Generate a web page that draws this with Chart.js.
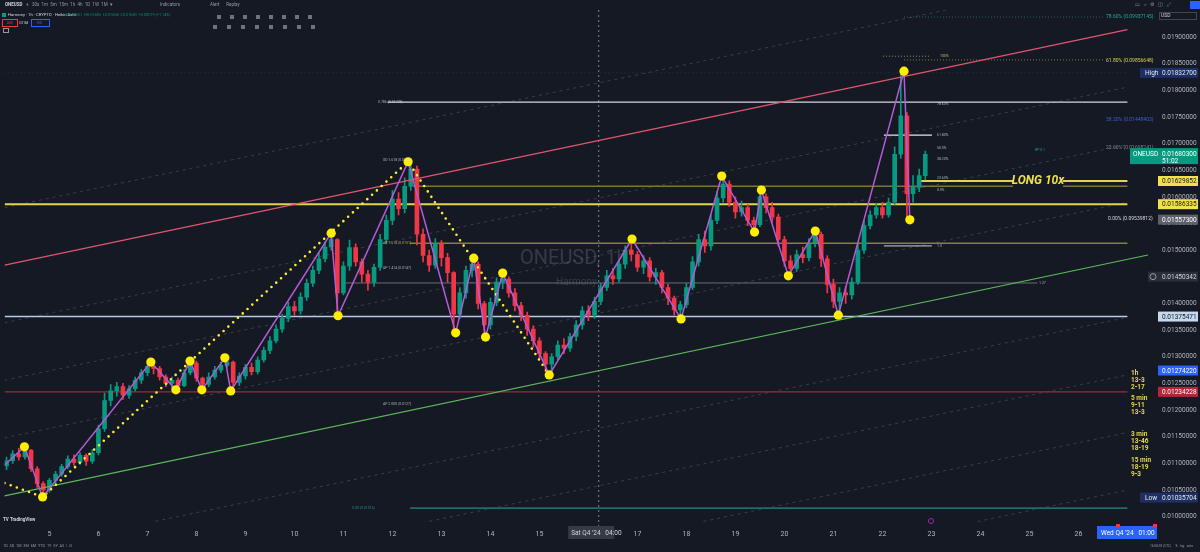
<!DOCTYPE html>
<html>
<head>
<meta charset="utf-8">
<script src="https://cdn.jsdelivr.net/npm/chart.js@4.4.1/dist/chart.umd.min.js"></script>
<style>
  html, body { margin: 0; padding: 0; background: #151924; }
  #wrap { width: 1200px; height: 552px; }
</style>
</head>
<body>
<div id="wrap"><canvas id="chart" width="1200" height="552"></canvas></div>
<script>
"use strict";

// prices are in units of 0.00001 USD (ONEUSD, 3h candles)
const firstOpen = 1095;
const candleStartDay = 4.125;
const candleStepDay = 0.125;

const closes = [
  1105, 1118, 1112, 1125, 1090, 1062, 1050, 1068, 1080, 1094,
  1108, 1102, 1115, 1104, 1120, 1165, 1218, 1236, 1244, 1228,
  1240, 1256, 1270, 1282, 1278, 1262, 1250, 1256, 1246, 1270,
  1288, 1260, 1248, 1262, 1275, 1284, 1290, 1252, 1264, 1280,
  1272, 1294, 1312, 1330, 1352, 1372, 1394, 1386, 1412, 1438,
  1462, 1484, 1506, 1520, 1420, 1470, 1505, 1478, 1455, 1440,
  1468, 1520, 1556, 1596, 1578, 1620, 1652, 1530, 1490, 1472,
  1512, 1486, 1458, 1380, 1420, 1462, 1474, 1400, 1360, 1402,
  1440, 1446, 1420, 1396, 1378, 1352, 1330, 1306, 1286, 1300,
  1322, 1316, 1338, 1360, 1386, 1378, 1404, 1430, 1452, 1446,
  1474, 1500, 1492, 1468, 1480, 1450, 1458, 1430, 1410, 1388,
  1398, 1430, 1478, 1520, 1508, 1556, 1598, 1624, 1590, 1572,
  1580, 1556, 1548, 1600, 1580, 1562, 1520, 1480, 1466, 1492,
  1486, 1514, 1530, 1484, 1436, 1404, 1420, 1416, 1440, 1500,
  1546, 1566, 1580, 1566, 1590, 1680, 1752, 1606, 1618, 1640,
  1680
];
const highs = [
  1112, 1124, 1128, 1131, 1126, 1094, 1066, 1072, 1085, 1098,
  1114, 1116, 1120, 1118, 1126, 1172, 1232, 1248, 1252, 1250,
  1246, 1262, 1276, 1288, 1290, 1282, 1266, 1262, 1260, 1276,
  1298, 1292, 1262, 1270, 1282, 1290, 1298, 1292, 1270, 1286,
  1288, 1300, 1318, 1338, 1360, 1380, 1402, 1404, 1420, 1446,
  1470, 1494, 1516, 1532, 1522, 1478, 1519, 1512, 1484, 1462,
  1474, 1530, 1566, 1612, 1608, 1636, 1666, 1658, 1540, 1500,
  1522, 1518, 1494, 1460, 1430, 1470, 1485, 1478, 1404, 1410,
  1448, 1457, 1450, 1428, 1402, 1384, 1358, 1336, 1310, 1306,
  1330, 1334, 1344, 1368, 1394, 1396, 1412, 1438, 1462, 1466,
  1482, 1508, 1519, 1498, 1490, 1486, 1466, 1462, 1436, 1414,
  1404, 1438, 1488, 1530, 1536, 1566, 1610, 1639, 1630, 1600,
  1592, 1586, 1562, 1613, 1606, 1590, 1568, 1526, 1490, 1500,
  1506, 1522, 1538, 1534, 1490, 1446, 1430, 1432, 1448, 1512,
  1556, 1574, 1588, 1590, 1598, 1694, 1833, 1758, 1640, 1652,
  1686
];
const lows = [
  1088, 1100, 1106, 1108, 1085, 1055, 1036, 1046, 1062, 1076,
  1090, 1096, 1098, 1096, 1100, 1116, 1160, 1208, 1226, 1220,
  1222, 1236, 1250, 1264, 1268, 1256, 1244, 1242, 1238, 1244,
  1266, 1254, 1238, 1244, 1258, 1270, 1280, 1238, 1246, 1258,
  1266, 1268, 1290, 1306, 1326, 1346, 1366, 1378, 1380, 1406,
  1432, 1456, 1478, 1500, 1377, 1416, 1462, 1470, 1440, 1425,
  1432, 1462, 1512, 1548, 1566, 1570, 1612, 1510, 1478, 1460,
  1466, 1470, 1440, 1345, 1372, 1410, 1450, 1390, 1337, 1352,
  1396, 1428, 1412, 1386, 1368, 1340, 1318, 1296, 1272, 1266,
  1294, 1306, 1310, 1330, 1352, 1368, 1372, 1398, 1424, 1436,
  1440, 1466, 1480, 1460, 1456, 1442, 1436, 1420, 1398, 1378,
  1373, 1392, 1426, 1470, 1496, 1500, 1550, 1590, 1582, 1560,
  1564, 1546, 1534, 1544, 1570, 1552, 1508, 1470, 1452, 1460,
  1476, 1480, 1506, 1470, 1420, 1392, 1377, 1400, 1408, 1436,
  1494, 1540, 1560, 1560, 1562, 1586, 1672, 1558, 1590, 1610,
  1632
];

// harmonic zigzag pivots (day of month, price)
const zigDays = [4.085, 4.49, 4.86, 7.07, 7.58, 7.87, 8.11, 8.58, 8.70, 10.75, 10.89, 12.32, 13.29,
  13.66, 13.90, 14.25, 15.20, 16.89, 17.89, 18.72, 19.39, 19.53, 20.08, 20.63, 21.10, 22.44, 22.56];
const zigPrices = [1097, 1131, 1037, 1290, 1238, 1292, 1238, 1298, 1236, 1532, 1377, 1666, 1345,
  1485, 1337, 1457, 1266, 1521, 1371, 1639, 1534, 1613, 1452, 1536, 1378, 1836, 1557];

// dotted XABCD legs
const legDays = [4.085, 4.86, 12.32, 15.20];
const legPrices = [1063, 1037, 1666, 1266];

// rising channel
const channelDays = [4.085, 27.0];
const channelTop = [1472, 1914];
const channelBottomDays = [4.085, 27.42];
const channelBottom = [1039, 1491];
const channelGuideStart = [1580, 1364, 1256, 1148, 932, 824, 716, 608];
const channelGuideEnd = [2022, 1806, 1698, 1590, 1374, 1266, 1158, 1050];

// horizontal levels: [price, fromDay, toDay]
const longEntry = [1629.852, 22.72, 27.0];
const supportLevel = [1586.335, 4.085, 27.0];
const upperOlive = [1620, 12.42, 27.0];
const lowerOlive = [1513, 12.36, 27.0];
const fibWhite = [1778, 11.9, 27.0];
const shortWhiteA = [1716, 22.03, 23.01];
const shortWhiteB = [1508, 22.03, 23.01];
const grayLevel = [1438.5, 11.0, 25.16];
const blueLevel = [1375.471, 4.085, 27.0];
const redLevel = [1234.228, 4.085, 27.0];
const tealLevel = [1016, 12.36, 27.0];
const highLevel = [1832.7, 4.085, 27.0];
const fibDotA = [1864, 22.01, 22.99];
const fibDotB = [1857, 22.44, 26.54];
const fibDotTop = [1937.5, 22.44, 26.54];

const dayTicks = [5, 6, 7, 8, 9, 10, 11, 12, 13, 14, 15, 16, 17, 18, 19, 20, 21, 22, 23, 24, 25, 26];
const priceTicks = [1000, 1050, 1100, 1150, 1200, 1250, 1300, 1350, 1400, 1450, 1500,
  1550, 1600, 1650, 1700, 1750, 1800, 1850, 1900];
const crosshairDay = 16.2;

const FONT = "Roboto, 'Liberation Sans', sans-serif";
const UP = "#089981";
const DOWN = "#f23645";
const BG = "#151924";

const opens = closes.map((c, i) => (i === 0 ? firstOpen : closes[i - 1]));
const candleDays = closes.map((c, i) => candleStartDay + i * candleStepDay);
const candleColors = closes.map((c, i) => (c >= opens[i] ? UP : DOWN));

const lineSet = (days, prices, style) =>
  Object.assign(
    {
      type: "line",
      data: days.map((d, i) => ({ x: d, y: prices[i] })),
      pointRadius: 0,
      fill: false,
      tension: 0,
    },
    style
  );

const levelSet = (lvl, style) => lineSet([lvl[1], lvl[2]], [lvl[0], lvl[0]], style);

const datasets = [];

// channel guide lines (dashed)
channelGuideStart.forEach((p, i) => {
  datasets.push(
    lineSet(channelDays, [p, channelGuideEnd[i]], {
      borderColor: "rgba(130,134,146,0.35)",
      borderWidth: 1,
      borderDash: [3, 4],
      order: 40,
    })
  );
});

datasets.push(levelSet(highLevel, { borderColor: "rgba(150,150,160,0.22)", borderWidth: 1, borderDash: [1, 3], order: 30 }));
datasets.push(levelSet(fibWhite, { borderColor: "#d6d8de", borderWidth: 1.2, order: 30 }));
datasets.push(levelSet(shortWhiteA, { borderColor: "#e6e6e6", borderWidth: 1.2, order: 30 }));
datasets.push(levelSet(shortWhiteB, { borderColor: "#d0d0d0", borderWidth: 1, order: 30 }));
datasets.push(levelSet(upperOlive, { borderColor: "#7d7436", borderWidth: 1.4, order: 30 }));
datasets.push(levelSet(lowerOlive, { borderColor: "#8a7f3a", borderWidth: 1.6, order: 30 }));
datasets.push(levelSet(grayLevel, { borderColor: "#6b6e78", borderWidth: 1, order: 30 }));
datasets.push(levelSet(blueLevel, { borderColor: "#b8cbe6", borderWidth: 1.6, order: 30 }));
datasets.push(levelSet(redLevel, { borderColor: "#a1283a", borderWidth: 1.2, order: 30 }));
datasets.push(levelSet(tealLevel, { borderColor: "#1d6e68", borderWidth: 1.6, order: 30 }));
datasets.push(levelSet(supportLevel, { borderColor: "#e3d44a", borderWidth: 2, order: 30 }));
datasets.push(levelSet(longEntry, { borderColor: "#e3d44a", borderWidth: 2, order: 30 }));
datasets.push(levelSet(fibDotA, { borderColor: "rgba(200,190,110,0.7)", borderWidth: 1, borderDash: [1, 2], order: 30 }));
datasets.push(levelSet(fibDotB, { borderColor: "rgba(200,185,80,0.6)", borderWidth: 1, borderDash: [1, 2], order: 30 }));
datasets.push(levelSet(fibDotTop, { borderColor: "rgba(60,150,140,0.55)", borderWidth: 1, borderDash: [1, 2], order: 30 }));

// candles: wicks then bodies
datasets.push({
  type: "bar",
  data: candleDays.map((d, i) => ({ x: d, y: [lows[i], highs[i]] })),
  backgroundColor: candleColors,
  barThickness: 1,
  grouped: false,
  order: 21,
});
datasets.push({
  type: "bar",
  data: candleDays.map((d, i) => ({ x: d, y: [opens[i], closes[i]] })),
  backgroundColor: candleColors,
  barThickness: 4,
  minBarLength: 1,
  grouped: false,
  order: 20,
});

datasets.push(lineSet(channelDays, channelTop, { borderColor: "#e0566d", borderWidth: 1.3, order: 15 }));
datasets.push(lineSet(channelBottomDays, channelBottom, { borderColor: "#5cb85c", borderWidth: 1.1, clip: false, order: 15 }));

datasets.push(
  lineSet(legDays, legPrices, {
    borderColor: "#ffee33",
    borderWidth: 2.6,
    borderDash: [0, 6.5],
    borderCapStyle: "round",
    order: 12,
  })
);
datasets.push(lineSet(zigDays, zigPrices, { borderColor: "#b45bd8", borderWidth: 1.5, order: 10 }));
datasets.push({
  type: "line",
  data: zigDays.slice(1).map((d, i) => ({ x: d, y: zigPrices[i + 1] })),
  showLine: false,
  pointRadius: 4.6,
  pointBackgroundColor: "#ffee00",
  pointBorderWidth: 0,
  order: 0,
});

const txt = (ctx, s, x, y, color, size, opts = {}) => {
  ctx.font = `${opts.style || ""} ${opts.weight || ""} ${size}px ${FONT}`.trim();
  ctx.fillStyle = color;
  ctx.textAlign = opts.align || "left";
  ctx.textBaseline = "middle";
  ctx.fillText(s, x, y);
};

const overlay = {
  id: "overlay",
  beforeDraw(chart) {
    const { ctx } = chart;
    ctx.save();
    ctx.fillStyle = BG;
    ctx.fillRect(0, 0, chart.width, chart.height);
    ctx.restore();
  },
  beforeDatasetsDraw(chart) {
    const { ctx, chartArea, scales } = chart;
    ctx.save();
    // watermark
    txt(ctx, "ONEUSD, 1h", 520, 259, "rgba(110,114,126,0.38)", 20);
    txt(ctx, "Harmony", 556, 282, "rgba(110,114,126,0.38)", 10);
    // crosshair
    const cx = scales.x.getPixelForValue(crosshairDay);
    ctx.strokeStyle = "rgba(150,154,164,0.8)";
    ctx.setLineDash([2, 3]);
    ctx.lineWidth = 1;
    ctx.beginPath();
    ctx.moveTo(cx + 0.5, chartArea.top);
    ctx.lineTo(cx + 0.5, chartArea.bottom + 4);
    ctx.stroke();
    ctx.restore();
  },
  afterDraw(chart) {
    const { ctx, scales } = chart;
    const py = (p) => scales.y.getPixelForValue(p);
    const px = (d) => scales.x.getPixelForValue(d);
    ctx.save();

    // LONG label breaking the entry line
    const ly = py(longEntry[0]);
    ctx.fillStyle = BG;
    ctx.fillRect(1013, ly - 6, 50, 12);
    txt(ctx, "LONG 10x", 1038, ly + 0.5, "#f2e14a", 12, { weight: "bold", style: "italic", align: "center" });

    // small pattern labels
    const tiny = "rgba(220,222,228,0.75)";
    txt(ctx, "0.786 (0.01778)", 378, py(1778), tiny, 3.5);
    txt(ctx, "XD 1.618 (0.0166)", 383, 160, tiny, 3.5);
    txt(ctx, "AP 1.618 (0.0151)", 383, py(1513), "rgba(210,200,120,0.8)", 3.5);
    txt(ctx, "AP 1.414 (0.0147)", 383, 268, tiny, 3.5);
    txt(ctx, "AP 2.000 (0.0127)", 383, 404, tiny, 3.5);
    txt(ctx, "0.00 (0.01016)", 352, py(1016), "rgba(38,166,154,0.8)", 3.5);
    txt(ctx, "78.60%", 937, 104, tiny, 3.5);
    txt(ctx, "61.80%", 937, 135, tiny, 3.5);
    txt(ctx, "50.0%", 937, 148, tiny, 3.5);
    txt(ctx, "38.20%", 937, 159, tiny, 3.5);
    txt(ctx, "23.60%", 937, 178, tiny, 3.5);
    txt(ctx, "0.0%", 937, 190, tiny, 3.5);
    txt(ctx, "100%", 940, 56, "rgba(220,200,90,0.9)", 3.5);
    txt(ctx, "RP 0.1", 1035, 150, "rgba(38,166,154,0.9)", 3.5);
    txt(ctx, "1.0", 937, 246, tiny, 3.5);
    txt(ctx, "1.27", 1039, 283, tiny, 3.5);

    // fib labels on the right
    txt(ctx, "78.60% (0.09937145)", 1106, 17, "#26a69a", 5);
    txt(ctx, "61.80% (0.09856648)", 1106, 61, "#e0cf55", 5);
    txt(ctx, "38.20% (0.01448403)", 1106, 120, "#3d5fd0", 5);
    txt(ctx, "23.60% (0.01698241)", 1106, 148, "rgba(150,154,164,0.8)", 5);
    txt(ctx, "0.00% (0.09539812)", 1108, 219, "#d6d8de", 5);

    // right axis boxes
    const box = (price, label, bg, fg, x0 = 1158) => {
      const y = py(price);
      ctx.fillStyle = bg;
      ctx.fillRect(x0, y - 5, 1198 - x0, 10);
      txt(ctx, label, 1162, y + 0.5, fg, 6.5);
    };
    box(1832.7, "0.01832700", "#1d2f63", "#e4e7ee", 1140);
    txt(ctx, "High", 1145, py(1832.7) + 0.5, "#e4e7ee", 6.5);
    box(1035.704, "0.01035704", "#1d2f63", "#e4e7ee", 1140);
    txt(ctx, "Low", 1145, py(1035.704) + 0.5, "#e4e7ee", 6.5);
    box(1629.852, "0.01629852", "#f2e14a", "#131722");
    box(1586.335, "0.01586335", "#f2e14a", "#131722");
    box(1557.3, "0.01557300", "#5d606b", "#ffffff");
    box(1450.342, "0.01450342", "#2a2e39", "#d1d4dc", 1148);
    ctx.strokeStyle = "#9598a1";
    ctx.lineWidth = 1;
    ctx.beginPath();
    ctx.arc(1153, py(1450.342), 3, 0, Math.PI * 2);
    ctx.stroke();
    box(1375.471, "0.01375471", "#c6d8ee", "#131722");
    box(1274.22, "0.01274220", "#2962ff", "#ffffff");
    box(1234.228, "0.01234228", "#b2283a", "#ffffff");

    // live price tag
    const ny = py(1680.3);
    ctx.fillStyle = "#089981";
    ctx.fillRect(1130, ny - 6, 68, 16);
    txt(ctx, "ONEUSD", 1133, ny, "#ffffff", 6.5);
    txt(ctx, "0.01680300", 1162, ny, "#ffffff", 6.5);
    txt(ctx, "51:02", 1162, ny + 7, "#ffffff", 6.5);

    // timeframe notes
    const notes = [
      ["1h", 373], ["13-3", 380], ["2-17", 387],
      ["5 min", 398], ["9-11", 405], ["13-3", 412],
      ["3 min", 434], ["13-46", 441], ["18-19", 448],
      ["15 min", 460], ["18-19", 467], ["9-3", 474],
    ];
    notes.forEach((n) => txt(ctx, n[0], 1131, n[1], "#e8d84a", 6.5, { weight: "bold" }));

    // time axis tags
    const tx = px(crosshairDay);
    ctx.fillStyle = "#363a45";
    ctx.fillRect(tx - 30, 526, 46, 13);
    txt(ctx, "Sat Q4 '24   04:00", tx - 27, 533, "#d1d4dc", 6.5);
    ctx.fillStyle = "#2962ff";
    ctx.fillRect(1097, 526, 60, 13);
    txt(ctx, "Wed Q4 '24   01:00", 1101, 533, "#ffffff", 6.5);
    ctx.fillStyle = "#f23645";
    ctx.fillRect(1116, 524, 4, 3);
    ctx.fillRect(1153, 524, 4, 3);
    ctx.strokeStyle = "#9c27b0";
    ctx.beginPath();
    ctx.arc(931, 521, 2.5, 0, Math.PI * 2);
    ctx.stroke();

    // header / toolbars
    const grey = "#9598a1";
    txt(ctx, "ONEUSD", 5, 5, "#d1d4dc", 4.5, { weight: "bold" });
    txt(ctx, "+   30s  1m  5m  15m  1h  4h  1D  1W  1M  ▾", 26, 5, grey, 4.5);
    txt(ctx, "Indicators", 160, 5, grey, 4.5);
    txt(ctx, "Alert      Replay", 210, 5, grey, 4.5);
    ctx.fillStyle = "#089981";
    ctx.fillRect(2, 13, 4, 4);
    txt(ctx, "Harmony · 1h · CRYPTO · Heikin Ashi", 8, 15, "#d1d4dc", 4.2);
    txt(ctx, "O0.01661  H0.01685  L0.01658  C0.01680  +0.00019 (+1.14%)", 66, 15, "rgba(8,153,129,0.9)", 3.8);
    ctx.strokeStyle = "#f23645";
    ctx.lineWidth = 1;
    ctx.strokeRect(2.5, 19.5, 15, 7);
    ctx.strokeStyle = "#2962ff";
    ctx.strokeRect(31.5, 19.5, 18, 7);
    txt(ctx, "0.0168", 19, 23, "#d1d4dc", 3);
    txt(ctx, "ASK", 7, 23, "#f23645", 3);
    txt(ctx, "BID", 37, 23, "#2962ff", 3);
    ctx.strokeStyle = grey;
    ctx.strokeRect(3.5, 28.5, 5, 4);
    for (let i = 0; i < 8; i++) {
      ctx.fillStyle = "rgba(149,152,161,0.7)";
      ctx.fillRect(217 + i * 13, 15, 4, 4);
      ctx.fillRect(213 + i * 14, 25, 4, 4);
    }
    txt(ctx, "▭   ⌕   ⚙   ◫   ⤢", 1135, 5, grey, 5);
    ctx.fillStyle = "#2962ff";
    ctx.fillRect(1190, 1, 10, 8);
    ctx.strokeStyle = "#434651";
    ctx.strokeRect(1159.5, 12.5, 37, 7);
    txt(ctx, "USD", 1161, 16, "#d1d4dc", 5);

    // footer
    txt(ctx, "TV TradingView", 3, 520, "#d1d4dc", 4.5, { weight: "bold" });
    txt(ctx, "1D  5D  1M  3M  6M  YTD  1Y  5Y  All  |  ⊡", 3, 546, grey, 3.8);
    txt(ctx, "16:08:59 (UTC)     %   log   auto", 1150, 546, grey, 3.2);
    ctx.restore();
  },
};

new Chart(document.getElementById("chart"), {
  type: "bar",
  data: { datasets },
  options: {
    responsive: false,
    animation: false,
    devicePixelRatio: 1,
    layout: { padding: { top: 10, left: 0, right: 0, bottom: 0 } },
    plugins: { legend: { display: false }, tooltip: { enabled: false } },
    scales: {
      x: {
        type: "linear",
        min: 4.085,
        max: 27.012,
        offset: false,
        grid: { display: false, drawTicks: false },
        border: { display: false },
        afterFit: (s) => {
          s.height = 30;
          s.paddingLeft = 0;
          s.paddingRight = 0;
        },
        afterBuildTicks: (s) => {
          s.ticks = dayTicks.map((v) => ({ value: v }));
        },
        ticks: {
          autoSkip: false,
          maxRotation: 0,
          padding: 8,
          color: "#b2b5be",
          font: { size: 7, family: FONT },
          callback: (v) => (v === 16 ? "" : String(v)),
        },
      },
      y: {
        position: "right",
        min: 990,
        max: 1950.7,
        grid: { display: false, drawTicks: false },
        border: { display: false },
        afterFit: (s) => {
          s.width = 72;
          s.paddingTop = 0;
          s.paddingBottom = 0;
        },
        afterBuildTicks: (s) => {
          s.ticks = priceTicks.map((v) => ({ value: v }));
        },
        ticks: {
          padding: 34,
          color: "#b2b5be",
          font: { size: 6.5, family: FONT },
          callback: (v) => (v / 1e5).toFixed(8),
        },
      },
    },
  },
  plugins: [overlay],
});
</script>
</body>
</html>
